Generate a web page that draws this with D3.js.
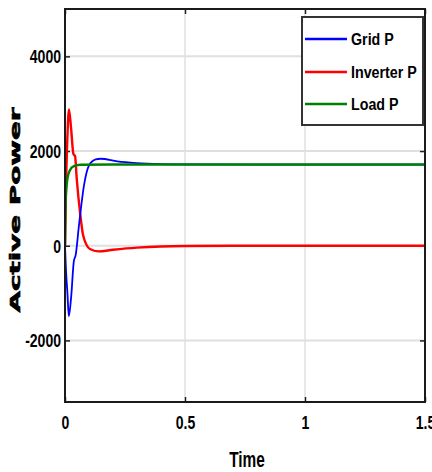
<!DOCTYPE html>
<html><head><meta charset="utf-8">
<script src="https://cdn.jsdelivr.net/npm/d3@7"></script>
<style>
body{margin:0;background:#fff;}
text{font-family:"Liberation Sans",Arial,sans-serif;font-weight:bold;}
</style></head><body>
<svg id="c" width="432" height="472"></svg>
<script>
// Data
const xTicks = [0, 0.5, 1, 1.5];
const xTickLabels = ["0", "0.5", "1", "1.5"];
const yTicks = [-2000, 0, 2000, 4000];
const yTickLabels = ["-2000", "0", "2000", "4000"];

const gridT = [0, 0.004, 0.01, 0.016, 0.026, 0.037, 0.044, 0.058, 0.079, 0.1, 0.128, 0.148, 0.218, 0.3, 0.4, 0.5, 0.8, 1.5];
const gridP = [0, -500, -990, -1490, -1060, -320, -210, 420, 1270, 1695, 1822, 1837, 1780, 1745, 1725, 1718, 1715, 1715];

const invT = [0, 0.004, 0.01, 0.0167, 0.025, 0.035, 0.042, 0.049, 0.0625, 0.076, 0.104, 0.139, 0.2, 0.3, 0.4, 0.5, 0.7, 1.5];
const invP = [0, 1200, 2300, 2880, 2500, 1940, 1890, 1410, 710, 210, -70, -119, -85, -40, -15, -5, 0, 0];

const loadT = [0, 0.003, 0.01, 0.02, 0.037, 0.065, 0.2, 1.5];
const loadP = [0, 990, 1413, 1590, 1680, 1710, 1715, 1715];

const seriesNames = ["Grid P", "Inverter P", "Load P"];
const seriesColors = ["#0000ff", "#ff0000", "#008000"];

const svg = d3.select("#c");
const L = 65, R = 425, T = 9, B = 402;
const x = d3.scaleLinear().domain([0, 1.5]).range([L, R]);
const y = d3.scaleLinear().domain([-3300, 5000]).range([B, T]);

// grid lines
svg.append("g").selectAll("line").data(xTicks.slice(1, -1)).join("line")
  .attr("x1", d => x(d)).attr("x2", d => x(d)).attr("y1", T).attr("y2", B)
  .attr("stroke", "#e0e0e0").attr("stroke-width", 1.5);
svg.append("g").selectAll("line").data(yTicks).join("line")
  .attr("x1", L).attr("x2", R).attr("y1", d => y(d)).attr("y2", d => y(d))
  .attr("stroke", "#e0e0e0").attr("stroke-width", 2);

// axes
const SX = 0.78;
const xAxis = d3.axisBottom(x).tickValues(xTicks).tickSize(-5).tickPadding(14)
  .tickFormat((d, i) => xTickLabels[i]);
const yAxis = d3.axisLeft(y).tickValues(yTicks).tickSize(-5).tickPadding(5)
  .tickFormat((d, i) => yTickLabels[i]);
const xAxisTop = d3.axisTop(x).tickValues(xTicks).tickSize(-5).tickFormat("");
const yAxisRight = d3.axisRight(y).tickValues(yTicks).tickSize(-5).tickFormat("");

function styleAxis(g) {
  g.select(".domain").remove();
  g.selectAll(".tick line").attr("stroke", "#222").attr("stroke-width", 1.5);
  g.selectAll(".tick text").attr("fill", "#000").attr("font-size", 18)
    .style("font-family", '"Liberation Sans",Arial,sans-serif').style("font-weight", "bold");
}
svg.append("g").attr("transform", `translate(0,${B})`).call(xAxis).call(styleAxis)
  .selectAll(".tick text").attr("transform", `scale(${SX},1)`);
svg.append("g").attr("transform", `translate(${L},0)`).call(yAxis).call(styleAxis)
  .selectAll(".tick text").attr("dy", "0.36em").attr("x", -4 / SX).attr("transform", `scale(${SX},1)`);
svg.append("g").attr("transform", `translate(0,${T})`).call(xAxisTop).call(styleAxis);
svg.append("g").attr("transform", `translate(${R},0)`).call(yAxisRight).call(styleAxis);

// clip
svg.append("clipPath").attr("id", "clip").append("rect")
  .attr("x", L).attr("y", T).attr("width", R - L).attr("height", B - T);

const line = d3.line().x(d => x(d[0])).y(d => y(d[1])).curve(d3.curveMonotoneX);
const series = [
  d3.zip(gridT, gridP),
  d3.zip(invT, invP),
  d3.zip(loadT, loadP)
];
const widths = [1.8, 2.4, 2.4];
const g = svg.append("g").attr("clip-path", "url(#clip)");
[1, 0, 2].forEach(i => {
  g.append("path").datum(series[i]).attr("d", line)
    .attr("fill", "none").attr("stroke", seriesColors[i]).attr("stroke-width", widths[i]);
});

// frame
svg.append("rect").attr("x", L).attr("y", T).attr("width", R - L).attr("height", B - T)
  .attr("fill", "none").attr("stroke", "#1a1a1a").attr("stroke-width", 2);

// legend
const lg = svg.append("g");
lg.append("rect").attr("x", 302).attr("y", 17).attr("width", 121).attr("height", 108)
  .attr("fill", "#fff").attr("stroke", "#333").attr("stroke-width", 2);
const rowY = [39, 72, 104];
const LSX = 0.84;
seriesNames.forEach((n, i) => {
  lg.append("line").attr("x1", 305).attr("x2", 347).attr("y1", rowY[i]).attr("y2", rowY[i])
    .attr("stroke", seriesColors[i]).attr("stroke-width", 2.4);
  lg.append("text").attr("x", 351 / LSX).attr("y", rowY[i]).attr("dy", "0.36em")
    .attr("transform", `scale(${LSX},1)`)
    .attr("font-size", 17).attr("fill", "#000").text(n);
});

// axis labels
const TSX = 0.7;
svg.append("text").attr("x", 247 / TSX).attr("y", 467).attr("text-anchor", "middle")
  .attr("transform", `scale(${TSX},1)`)
  .attr("font-size", 22).attr("fill", "#000").text("Time");
svg.append("text").attr("transform", "translate(20,210) rotate(-90)")
  .attr("text-anchor", "middle").attr("font-size", 14).attr("fill", "#000")
  .attr("stroke", "#000").attr("stroke-width", 0.6)
  .style("font-family", '"DejaVu Sans",sans-serif').style("font-weight", "bold")
  .attr("textLength", 205).attr("lengthAdjust", "spacingAndGlyphs")
  .text("Active Power");
</script>
</body></html>
